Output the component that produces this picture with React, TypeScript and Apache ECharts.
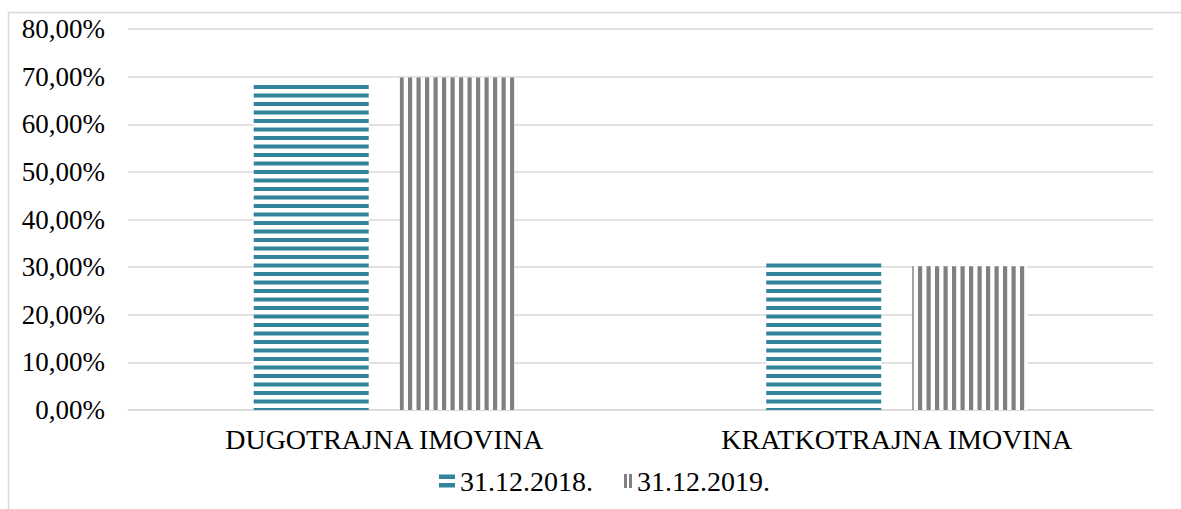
import React, { useEffect, useRef } from "react";
import * as echarts from "echarts";

const categories = ["DUGOTRAJNA IMOVINA", "KRATKOTRAJNA IMOVINA"];
const seriesNames = ["31.12.2018.", "31.12.2019."];
const values2018 = [68.9, 31.1];
const values2019 = [69.8, 30.2];
const yMin = 0;
const yMax = 80;
const yInterval = 10;

const TEAL = "#31849B";
const GRAY = "#808080";
const FONT = "Liberation Serif";

function stripes(color: string, horizontal: boolean): HTMLCanvasElement {
  const c = document.createElement("canvas");
  c.width = horizontal ? 8 : 17;
  c.height = horizontal ? 17 : 8;
  const ctx = c.getContext("2d")!;
  ctx.fillStyle = "#ffffff";
  ctx.fillRect(0, 0, c.width, c.height);
  ctx.fillStyle = color;
  if (horizontal) {
    ctx.fillRect(0, 0, c.width, 4);
    ctx.fillRect(0, 8.5, c.width, 4);
  } else {
    ctx.fillRect(0, 0, 4.2, c.height);
    ctx.fillRect(8.5, 0, 4.2, c.height);
  }
  return c;
}

export default function App() {
  const ref = useRef<HTMLDivElement>(null);
  useEffect(() => {
    document.body.style.margin = "0";
    document.body.style.overflow = "hidden";
    const chart = echarts.init(ref.current!, null, { renderer: "svg" });
    const tealPattern = { image: stripes(TEAL, true), repeat: "repeat" };
    const grayPattern = { image: stripes(GRAY, false), repeat: "repeat" };
    chart.setOption({
      animation: false,
      backgroundColor: "#ffffff",
      textStyle: { fontFamily: FONT, color: "#000" },
      grid: { left: 128, right: 28, top: 29, bottom: 99 },
      graphic: [
        {
          type: "line",
          shape: { x1: 9, y1: 12.5, x2: 1181, y2: 12.5 },
          style: { stroke: "#d9d9d9", lineWidth: 1.5 },
        },
        {
          type: "line",
          shape: { x1: 8.5, y1: 12, x2: 8.5, y2: 509 },
          style: { stroke: "#d9d9d9", lineWidth: 1.5 },
        },
      ],
      legend: [
        {
          left: 434,
          top: 462,
          itemWidth: 16,
          itemHeight: 13,
          textStyle: { fontFamily: FONT, fontSize: 28, color: "#000" },
          data: [
            {
              name: seriesNames[0],
              icon: "path://M0,0H16V4.5H0Z M0,8.5H16V13H0Z",
              itemStyle: { color: TEAL },
            },
          ],
        },
        {
          left: 619,
          top: 462,
          itemWidth: 8,
          itemHeight: 14,
          textStyle: { fontFamily: FONT, fontSize: 28, color: "#000" },
          data: [
            {
              name: seriesNames[1],
              icon: "path://M0,0H3V14H0Z M5,0H8V14H5Z",
              itemStyle: { color: GRAY },
            },
          ],
        },
      ],
      xAxis: {
        type: "category",
        data: categories,
        axisLine: { lineStyle: { color: "#d9d9d9", width: 1.5 } },
        axisTick: { show: false },
        axisLabel: { fontFamily: FONT, fontSize: 28, color: "#000", margin: 15 },
      },
      yAxis: {
        type: "value",
        min: yMin,
        max: yMax,
        interval: yInterval,
        axisLine: { show: false },
        axisTick: { show: false },
        splitLine: { lineStyle: { color: "#d9d9d9", width: 1.5 } },
        axisLabel: {
          fontFamily: FONT,
          fontSize: 27,
          color: "#000",
          margin: 23,
          formatter: (v: number) => v.toFixed(2).replace(".", ",") + "%",
        },
      },
      series: [
        {
          name: seriesNames[0],
          type: "bar",
          data: values2018,
          barWidth: 115,
          barGap: "27%",
          itemStyle: { color: tealPattern },
        },
        {
          name: seriesNames[1],
          type: "bar",
          data: values2019,
          barWidth: 115,
          barGap: "27%",
          itemStyle: { color: grayPattern },
        },
      ],
    });
    return () => chart.dispose();
  }, []);
  return <div ref={ref} style={{ width: 1181, height: 509 }} />;
}
